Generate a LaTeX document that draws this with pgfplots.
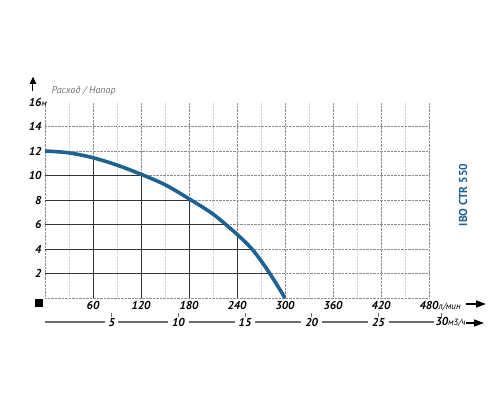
\documentclass[border=0pt]{standalone}
\usepackage{pgfplots}
\pgfplotsset{compat=1.18}
\usepackage{fontspec}
\setmainfont{PT Sans}
\usetikzlibrary{arrows.meta}
\definecolor{curveblue}{RGB}{30,98,148}
\definecolor{axgray}{RGB}{110,110,110}
\begin{document}
\begin{tikzpicture}
\begin{axis}[
  scale only axis,
  width=384pt, height=196pt,
  xmin=0, xmax=480, ymin=0, ymax=16,
  clip=false,
  axis line style={draw=none},
  major tick style={draw=none}, minor tick style={draw=none},
  /pgf/number format/assume math mode=true,
  xtick={0,60,120,180,240,300,360,420,480},
  xticklabels={,60,120,180,240,300,360,420,{480\rlap{\mdseries\fontsize{9}{10}\selectfont л/мин}}},
  minor xtick={30,90,150,210,270,330,390,450},
  ytick={0,2,4,6,8,10,12,14},
  yticklabels={,2,4,6,8,10,12,14},
  extra y ticks={16},
  extra y tick labels={{16\rlap{\mdseries\fontsize{9}{10}\selectfont м}}},
  extra y tick style={grid=none},
  grid=both,
  major grid style={densely dotted, line width=0.7pt, black!45},
  minor grid style={densely dotted, line width=0.6pt, black!18},
  ticklabel style={font=\fontsize{11.5}{13}\selectfont\bfseries\itshape},
]
% black inner grid lines under the curve
\addplot[black!80, line width=0.95pt] coordinates {(0,10) (122,10)};
\addplot[black!80, line width=0.95pt] coordinates {(0,8) (181,8)};
\addplot[black!80, line width=0.95pt] coordinates {(0,6) (228,6)};
\addplot[black!80, line width=0.95pt] coordinates {(0,4) (259,4)};
\addplot[black!80, line width=0.95pt] coordinates {(0,2) (280,2)};
\addplot[black!80, line width=0.95pt] coordinates {(60,0) (60,11.4)};
\addplot[black!80, line width=0.95pt] coordinates {(120,0) (120,10.1)};
\addplot[black!80, line width=0.95pt] coordinates {(180,0) (180,8.1)};
\addplot[black!80, line width=0.95pt] coordinates {(240,0) (240,5.2)};
% pump curve
\addplot[curveblue, line width=3.6pt, smooth, tension=0.5] coordinates {
 (0,12) (30,11.85) (60,11.45) (90,10.85) (120,10.1) (150,9.25)
 (180,8.1) (210,6.85) (240,5.2) (260,3.9) (280,2.1) (300,0)};
% decorations
\fill (axis cs:-12.5,-0.08) rectangle (axis cs:-2.5,-0.74);
\draw[line width=1pt, -{Triangle[length=7pt,width=6.5pt]}] (axis cs:-15,16.9) -- (axis cs:-15,18.05);
\node[anchor=west, text=black!55, font=\itshape\fontsize{10}{12}\selectfont] at (axis cs:3.75,16.9) {Расход / Напор};
\draw[line width=1.3pt, -{Triangle[length=10pt,width=7pt]}] (axis cs:526.25,-0.49) -- (axis cs:551.25,-0.49);
% m3/h scale
\begin{scope}[axgray, line width=1.5pt]
\draw (axis cs:0,-1.96) -- (axis cs:75.6,-1.96);
\draw (axis cs:91.25,-1.96) -- (axis cs:153.75,-1.96);
\draw (axis cs:179.4,-1.96) -- (axis cs:237.5,-1.96);
\draw (axis cs:262.5,-1.96) -- (axis cs:320.6,-1.96);
\draw (axis cs:346.25,-1.96) -- (axis cs:403.75,-1.96);
\draw (axis cs:429.4,-1.96) -- (axis cs:486.25,-1.96);
\end{scope}
\foreach \m/\l in {83.33/5,166.67/10,250/15,333.33/20,416.67/25} {
  \edef\temp{\noexpand\draw[axgray, line width=0.8pt] (axis cs:\m,-1.22) -- (axis cs:\m,-1.55);}\temp
  \edef\temp{\noexpand\node[font=\noexpand\fontsize{11.5}{13}\noexpand\selectfont\noexpand\bfseries\noexpand\itshape, inner sep=0pt] at (axis cs:\m,-2.0) {\l};}\temp
}
\draw[axgray, line width=0.8pt] (axis cs:496,-1.22) -- (axis cs:496,-1.55);
\node[font=\fontsize{11.5}{13}\selectfont\bfseries\itshape, inner sep=0pt] at (axis cs:496,-2.0) {30\rlap{\mdseries\fontsize{9}{10}\selectfont м3/ч}};
\draw[line width=1.3pt, -{Triangle[length=10pt,width=7pt]}] (axis cs:526.25,-2.04) -- (axis cs:548.75,-2.04);
\node[rotate=90, text=curveblue, font=\bfseries\fontsize{11.5}{13}\selectfont] at (axis cs:522.5,8.41) {IBO CTR 550};
\coordinate (bbSW) at (axis cs:-56.25,-8.3265);
\coordinate (bbNE) at (axis cs:568.75,24.3265);
\end{axis}
\pgfresetboundingbox
\path (bbSW) rectangle (bbNE);
\end{tikzpicture}
\end{document}
